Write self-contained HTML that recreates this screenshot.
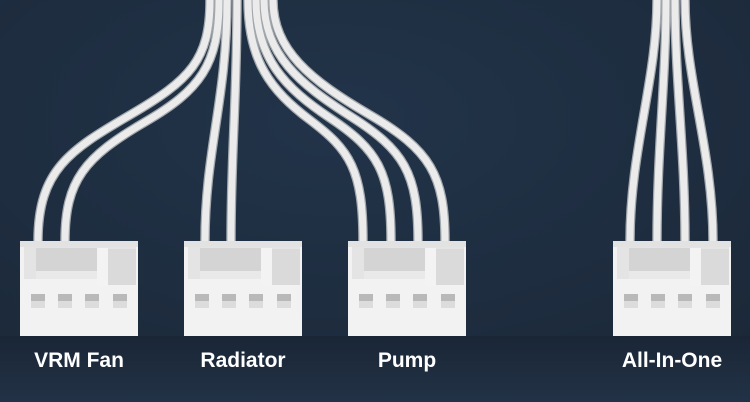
<!DOCTYPE html>
<html><head><style>
html,body{margin:0;padding:0;background:#1e2c3c;}
svg{display:block;}
text{font-family:"Liberation Sans",sans-serif;font-weight:bold;font-size:21px;fill:#fff;}
</style></head><body>
<svg width="750" height="402" viewBox="0 0 750 402" xmlns="http://www.w3.org/2000/svg">
<defs>
<radialGradient id="bg" cx="0.45" cy="0.3" r="0.8">
<stop offset="0" stop-color="#22344a"/><stop offset="1" stop-color="#1b2838"/>
</radialGradient>
<linearGradient id="fl" x1="0" y1="0" x2="0" y2="1">
<stop offset="0" stop-color="#1a2636"/><stop offset="1" stop-color="#223246"/>
</linearGradient>
<g id="conn">
<rect x="0" y="0" width="118" height="95" fill="#f2f2f2"/>
<rect x="0" y="0" width="118" height="6" fill="#e2e2e2"/>
<rect x="4" y="6" width="112" height="32" fill="#e4e4e4"/>
<rect x="16" y="7" width="61" height="31" fill="#d4d4d4"/>
<rect x="16" y="30" width="61" height="8" fill="#e9e9e9"/>
<rect x="77" y="7" width="11" height="38" fill="#f3f3f3"/>
<rect x="88" y="8" width="28" height="36" fill="#dadada"/>
<g fill="#b9b9b9">
<rect x="11" y="53" width="14" height="14"/><rect x="38" y="53" width="14" height="14"/>
<rect x="65" y="53" width="14" height="14"/><rect x="93" y="53" width="14" height="14"/>
</g>
<g fill="#dcdcdc">
<rect x="11" y="60" width="14" height="7"/><rect x="38" y="60" width="14" height="7"/>
<rect x="65" y="60" width="14" height="7"/><rect x="93" y="60" width="14" height="7"/>
</g>
</g>
</defs>
<rect width="750" height="402" fill="url(#bg)"/>
<rect y="336" width="750" height="66" fill="url(#fl)"/>
<g fill="none" stroke-linecap="butt">
<g stroke="#a2a7ac" stroke-width="9.5">
<path d="M210,0 C210,60 190,80 130,115 C70,150 38,170 38,241"/>
<path d="M219,0 C219,65 200,90 145,122 C85,157 65,180 65,241"/>
<path d="M227,0 C227,100 205,150 205,241"/>
<path d="M237,0 C237,100 231,150 231,241"/>
<path d="M248,0 C248,60 270,90 310,120 C350,150 363,170 363,241"/>
<path d="M256,0 C256,58 285,88 330,118 C378,150 391,172 391,241"/>
<path d="M264,0 C264,55 300,84 350,116 C404,150 418,173 418,241"/>
<path d="M273,0 C273,50 310,80 370,115 C430,150 445,175 445,241"/>
<path d="M657,0 C657,80 630,150 630,241"/>
<path d="M666,0 C666,80 657,150 657,241"/>
<path d="M675,0 C675,80 685,150 685,241"/>
<path d="M685,0 C685,80 713,150 713,241"/>
</g>
<g stroke="#ebebeb" stroke-width="7">
<path d="M210,0 C210,60 190,80 130,115 C70,150 38,170 38,241"/>
<path d="M219,0 C219,65 200,90 145,122 C85,157 65,180 65,241"/>
<path d="M227,0 C227,100 205,150 205,241"/>
<path d="M237,0 C237,100 231,150 231,241"/>
<path d="M248,0 C248,60 270,90 310,120 C350,150 363,170 363,241"/>
<path d="M256,0 C256,58 285,88 330,118 C378,150 391,172 391,241"/>
<path d="M264,0 C264,55 300,84 350,116 C404,150 418,173 418,241"/>
<path d="M273,0 C273,50 310,80 370,115 C430,150 445,175 445,241"/>
<path d="M657,0 C657,80 630,150 630,241"/>
<path d="M666,0 C666,80 657,150 657,241"/>
<path d="M675,0 C675,80 685,150 685,241"/>
<path d="M685,0 C685,80 713,150 713,241"/>
</g>
</g>
<use href="#conn" x="20" y="241"/>
<use href="#conn" x="184" y="241"/>
<use href="#conn" x="348" y="241"/>
<use href="#conn" x="613" y="241"/>
<text x="79" y="367" text-anchor="middle">VRM Fan</text>
<text x="243" y="367" text-anchor="middle">Radiator</text>
<text x="407" y="367" text-anchor="middle">Pump</text>
<text x="672" y="367" text-anchor="middle">All-In-One</text>
</svg>
</body></html>
